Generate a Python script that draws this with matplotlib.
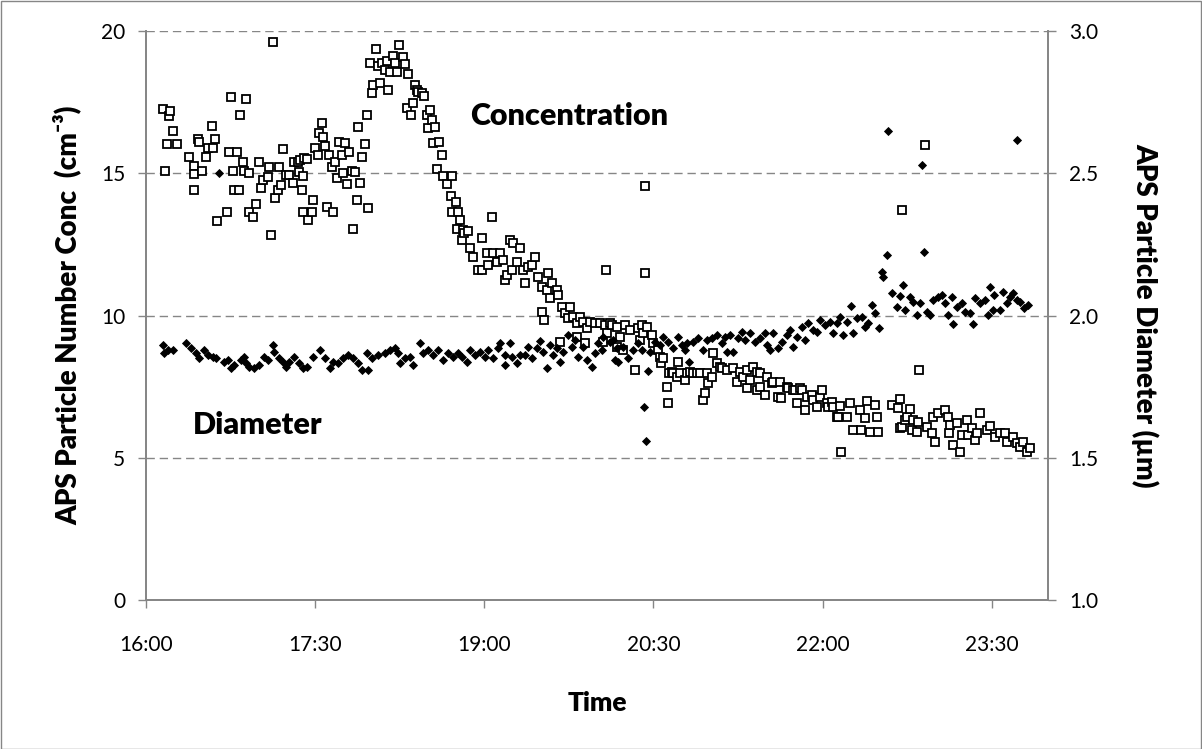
import matplotlib
matplotlib.use("Agg")
import matplotlib.pyplot as plt
from matplotlib.patches import Rectangle

# ---------------- data ----------------
# time in minutes after 16:00
conc_minutes = [
    8.9, 10.1, 11.0, 12.1, 12.9, 14.2, 16.3, 23.0, 25.4, 25.5, 25.8, 27.5, 28.4, 29.8, 31.9, 32.8,
    35.0, 35.5, 36.9, 37.8, 42.9, 44.0, 45.2, 46.1, 47.0, 48.3, 49.3, 50.2, 51.5, 52.0, 53.2, 54.7,
    55.0, 56.8, 58.5, 60.3, 61.2, 62.4, 64.8, 65.6, 66.7, 67.4, 68.8, 70.1, 70.9, 71.8, 72.8, 74.5,
    76.3, 78.1, 78.9, 80.7, 81.6, 82.0, 82.9, 83.4, 83.7, 84.2, 85.5, 86.4, 88.2, 89.0, 89.9, 91.7,
    92.2, 93.5, 94.4, 95.3, 96.2, 97.6, 98.8, 99.7, 100.6, 101.8, 102.9, 104.2, 105.0, 105.9, 106.8,
    108.2, 109.5, 110.0, 111.2, 112.1, 113.0, 113.9, 114.8, 116.6, 117.5, 118.3, 119.2, 120.1, 121.0,
    122.4, 123.6, 124.5, 125.4, 127.2, 128.4, 129.0, 129.9, 131.6, 132.5, 133.7, 134.8, 136.9, 137.8,
    138.7, 139.6, 140.9, 141.9, 143.2, 144.1, 144.9, 146.7, 148.0, 149.4, 150.2, 151.1, 152.1, 152.9,
    153.8, 154.7, 156.1, 157.4, 158.2, 160.0, 162.3, 162.7, 163.0, 165.0, 165.4, 165.9, 167.1, 168.0,
    168.5, 169.4, 171.5, 172.4, 174.2, 176.8, 178.7, 178.8, 181.3, 182.2, 184.0, 184.8, 186.6, 188.4,
    190.2, 191.1, 192.0, 193.7, 194.6, 195.5, 197.6, 199.0, 200.8, 201.7, 203.5, 205.3, 207.0, 208.8,
    210.6, 210.8, 211.8, 213.3, 214.1, 215.0, 215.9, 218.6, 219.4, 220.3, 221.2, 223.0, 224.7, 225.6,
    227.4, 229.2, 229.4, 231.0, 232.7, 233.6, 234.5, 236.3, 239.0, 241.6, 243.4, 244.3, 244.8, 245.2,
    246.9, 247.8, 250.5, 250.6, 252.3, 254.0, 254.9, 257.6, 260.2, 262.0, 262.9, 263.8, 264.7, 265.6,
    265.6, 266.5, 269.1, 270.0, 272.6, 273.5, 274.0, 275.3, 277.1, 278.0, 278.1, 279.8, 280.6, 282.4,
    283.3, 284.2, 286.9, 287.8, 289.5, 291.3, 293.1, 294.8, 296.6, 297.5, 298.4, 299.3, 301.1, 301.9,
    303.7, 305.5, 306.5, 309.0, 312.6, 314.4, 316.1, 317.9, 319.7, 319.8, 321.4, 323.2, 325.0, 325.1,
    326.8, 327.0, 329.4, 330.3, 333.0, 333.9, 336.5, 337.4, 337.7, 341.0, 341.8, 344.5, 345.4, 346.3,
    348.1, 349.0, 350.7, 351.6, 354.3, 355.1, 356.9, 358.7, 359.6, 362.3, 363.1, 364.9, 365.8, 367.6,
    368.4, 369.3, 369.7, 372.9, 374.7, 376.4, 380.0, 380.3, 382.6, 383.6, 385.3, 388.0, 388.9, 389.7,
    396.9, 400.4, 401.3, 401.5, 402.2, 402.5, 403.9, 404.8, 406.6, 407.5, 408.4, 410.2, 411.0, 411.5,
    414.6, 415.5, 418.1, 419.0, 419.9, 421.7, 425.2, 427.0, 427.1, 427.9, 429.6, 431.5, 433.2, 434.1,
    436.8, 437.6, 439.4, 441.2, 442.1, 443.9, 447.4, 449.2, 451.8, 454.5, 457.2, 458.1, 461.6, 463.4,
    465.1, 466.9, 468.7, 470.5,
]
conc_values = [
    17.25, 15.08, 16.04, 17.0, 17.2, 16.5, 16.04, 15.58, 14.4, 15.27, 14.97, 16.19, 16.11, 15.08, 15.58, 15.88,
    16.66, 15.9, 16.19, 13.32, 13.65, 15.76, 17.67, 15.08, 14.4, 15.76, 14.4, 17.05, 15.4, 15.08, 17.6, 15.0,
    13.65, 13.47, 13.92, 15.4, 14.47, 14.76, 14.86, 15.23, 12.83, 19.62, 14.12, 14.41, 15.23, 14.59, 15.84, 14.94,
    14.94, 14.67, 15.4, 15.4, 15.05, 15.47, 14.4, 14.9, 13.65, 15.52, 15.5, 13.36, 13.65, 14.06, 15.88, 15.64,
    16.4, 16.78, 16.29, 15.96, 13.83, 15.64, 15.23, 13.65, 15.4, 14.82, 16.11, 15.64, 15.0, 16.05, 14.62,
    15.76, 15.09, 13.03, 15.05, 14.06, 16.64, 14.67, 15.58, 16.03, 17.05, 13.79, 18.89, 17.81, 18.1,
    19.36, 18.77, 18.16, 18.89, 18.63, 18.94, 17.93, 18.57, 19.12, 18.87, 18.57, 19.51, 19.07, 18.83,
    17.28, 18.49, 17.05, 17.48, 18.1, 17.93, 17.87, 17.81, 17.72, 17.05, 16.58, 17.22, 16.87, 16.05,
    16.64, 15.14, 16.11, 15.64, 14.9, 14.62, 14.2, 14.9, 13.65, 14.0, 13.03, 13.65, 13.36, 12.65,
    13.0, 12.9, 12.98, 12.36, 12.05, 11.6, 12.71, 11.6, 12.19, 11.78, 13.45, 12.19, 11.89, 12.19,
    11.95, 11.25, 11.42, 12.65, 11.6, 12.54, 11.89, 12.36, 11.6, 11.15, 11.72, 11.78, 12.05, 11.34,
    11.01, 10.13, 9.84, 10.9, 11.48, 10.6, 11.13, 10.9, 10.72, 9.08, 10.31, 10.08, 9.9, 10.31,
    9.96, 9.73, 9.26, 9.96, 9.78, 9.02, 9.55, 9.78, 9.73, 9.73, 9.08, 9.67, 11.6, 9.37,
    9.73, 9.67, 9.61, 8.9, 9.26, 8.79, 9.67, 9.49, 8.08, 9.55, 9.14, 9.67, 9.37, 14.55,
    11.48, 9.61, 9.31, 9.02, 8.79, 8.55, 8.32, 8.49, 7.48, 6.94, 7.97, 8.03, 7.97, 7.85,
    8.38, 7.97, 7.73, 7.97, 8.03, 7.97, 7.99, 7.97, 7.03, 7.26, 7.97, 7.62, 7.85, 8.67,
    8.32, 8.2, 8.14, 8.08, 8.14, 7.67, 8.03, 7.85, 8.08, 7.44, 7.73, 8.2, 7.38, 8.03,
    7.97, 7.5, 7.21, 7.85, 7.62, 7.67, 7.15, 7.67, 7.09, 7.5, 7.44, 7.38, 7.38, 6.91,
    7.44, 7.38, 6.68, 7.15, 7.21, 7.03, 6.79, 7.15, 7.38, 6.91, 6.79, 6.97, 6.79, 6.44,
    6.44, 6.82, 5.21, 6.44, 6.94, 5.98, 6.68, 5.98, 6.39, 7.0, 5.92, 6.85, 6.44, 5.92,
    6.85, 6.74, 7.05, 6.03, 6.09, 13.71, 6.33, 6.44, 6.7, 5.98, 6.33, 5.92, 6.27, 8.08,
    15.99, 6.09, 5.86, 6.44, 5.57, 6.56, 6.68, 6.44, 5.86, 6.15, 5.45, 6.21, 5.21, 5.8,
    6.33, 5.8, 6.03, 5.62, 5.86, 6.59, 5.98, 6.12, 5.74, 5.86, 5.86, 5.57, 5.74, 5.51,
    5.39, 5.57, 5.21, 5.33,
]

diam_minutes = [
    8.9, 9.7, 11.5, 14.2, 21.3, 23.9, 26.6, 28.4, 31.0, 32.8, 35.5, 37.3, 39.0, 41.7, 43.5, 45.2,
    47.0, 50.6, 52.3, 53.2, 55.0, 57.6, 60.3, 63.0, 64.8, 67.4, 68.3, 70.9, 72.8, 74.5, 76.3, 78.9,
    81.6, 83.4, 85.5, 89.0, 92.6, 95.3, 97.9, 99.7, 102.3, 105.0, 107.7, 110.3, 113.0, 114.8, 117.5,
    118.3, 120.1, 123.6, 127.2, 129.9, 132.5, 134.3, 135.2, 137.8, 140.5, 142.3, 145.8, 147.6, 150.2,
    152.9, 155.6, 158.2, 160.9, 163.5, 166.2, 168.0, 170.7, 172.4, 175.1, 177.8, 180.4, 182.2, 184.8,
    187.5, 188.4, 191.1, 191.3, 193.7, 194.6, 197.3, 199.0, 201.7, 203.5, 205.3, 207.9, 209.7, 211.4,
    213.3, 215.0, 216.8, 218.6, 220.3, 222.1, 224.7, 226.6, 228.3, 230.1, 232.7, 234.5, 237.2, 239.0,
    240.7, 242.5, 243.4, 246.9, 248.7, 249.6, 250.5, 251.4, 254.0, 256.7, 259.3, 262.0, 263.8, 265.0,
    266.1, 267.3, 268.2, 270.9, 273.5, 275.3, 278.0, 280.6, 283.3, 285.1, 286.9, 287.8, 289.1, 291.3,
    293.9, 296.6, 298.4, 301.1, 303.7, 306.4, 308.1, 309.0, 310.8, 312.6, 315.2, 317.0, 318.8, 321.4,
    324.1, 326.8, 329.4, 330.3, 332.1, 333.9, 336.5, 338.3, 341.0, 342.7, 344.5, 346.3, 349.0, 350.7,
    352.5, 355.1, 356.9, 358.7, 361.4, 364.0, 365.8, 367.6, 369.3, 371.1, 372.9, 375.2, 376.4, 378.2,
    380.9, 382.6, 384.4, 386.2, 388.0, 390.3, 391.5, 392.4, 394.2, 394.9, 396.9, 399.5, 401.3, 403.0,
    403.9, 406.6, 408.4, 410.2, 411.9, 413.1, 414.2, 415.5, 417.2, 419.0, 421.7, 423.5, 425.2, 427.0,
    429.1, 429.6, 431.5, 434.1, 435.9, 438.5, 440.3, 441.2, 443.9, 446.5, 448.3, 449.2, 450.9, 451.4,
    454.5, 456.3, 458.1, 459.8, 461.6, 463.4, 463.5, 465.1, 467.4, 469.6,
]
diam_values = [
    1.896, 1.867, 1.879, 1.879, 1.902, 1.885, 1.867, 1.85, 1.879, 1.861, 1.855, 1.85, 2.5, 1.838, 1.844, 1.814,
    1.826, 1.844, 1.855, 1.832, 1.82, 1.814, 1.826, 1.855, 1.844, 1.896, 1.873, 1.85, 1.838, 1.82, 1.838, 1.855,
    1.832, 1.814, 1.82, 1.855, 1.879, 1.85, 1.814, 1.838, 1.832, 1.85, 1.861, 1.85, 1.832, 1.808, 1.867,
    1.808, 1.85, 1.861, 1.867, 1.879, 1.885, 1.867, 1.832, 1.85, 1.855, 1.826, 1.902, 1.867, 1.879,
    1.861, 1.879, 1.844, 1.867, 1.855, 1.867, 1.855, 1.838, 1.879, 1.861, 1.873, 1.855, 1.879, 1.85,
    1.885, 1.904, 1.826, 1.861, 1.904, 1.855, 1.832, 1.861, 1.861, 1.89, 1.85, 1.885, 1.911, 1.873,
    1.814, 1.896, 1.861, 1.885, 1.838, 1.873, 1.931, 1.89, 1.914, 1.855, 1.89, 1.844, 1.82, 1.867,
    1.902, 1.879, 1.925, 1.908, 1.914, 1.844, 1.885, 1.838, 1.89, 1.85, 1.879, 1.902, 1.879, 1.677,
    1.559, 1.806, 1.873, 1.908, 1.896, 1.925, 1.908, 1.885, 1.925, 1.896, 1.879, 1.902, 1.838, 1.908,
    1.92, 1.879, 1.914, 1.92, 1.931, 1.902, 1.925, 1.873, 1.931, 1.873, 1.92, 1.943, 1.914, 1.937,
    1.908, 1.92, 1.937, 1.896, 1.879, 1.94, 1.885, 1.908, 1.931, 1.949, 1.89, 1.925, 1.961, 1.914,
    1.973, 1.949, 1.943, 1.984, 1.967, 1.978, 1.937, 1.973, 1.996, 1.931, 1.978, 2.034, 1.937, 1.99,
    1.996, 1.961, 1.975, 2.037, 2.008, 1.957, 2.154, 2.136, 2.213, 2.648, 2.08, 2.031, 2.07, 2.107,
    2.019, 2.066, 2.049, 2.002, 2.043, 2.529, 2.222, 2.013, 2.002, 2.054, 2.066, 2.072, 2.043, 2.002,
    2.064, 1.97, 2.031, 2.043, 2.013, 2.01, 1.97, 2.06, 2.043, 2.054, 2.002, 2.101, 2.019, 2.072,
    2.019, 2.084, 2.043, 2.066, 2.078, 2.054, 2.617, 2.049, 2.025, 2.037,
]

x_tick_minutes = [0, 90, 180, 270, 360, 450]
x_tick_labels = ["16:00", "17:30", "19:00", "20:30", "22:00", "23:30"]
left_ticks = [0, 5, 10, 15, 20]
right_ticks = [1.0, 1.5, 2.0, 2.5, 3.0]

# ---------------- figure ----------------
W, H = 1202, 749
fig = plt.figure(figsize=(W / 100, H / 100), dpi=100)
fig.patch.set_facecolor("white")
fig.add_artist(Rectangle((0.5 / W, 0.5 / H), 1 - 1.5 / W, 1 - 1.5 / H, transform=fig.transFigure,
                         fill=False, edgecolor="#868686", linewidth=1.0))

gray = "#868686"
font = "Lato"
fonts = ["Lato", "DejaVu Sans"]
ax = fig.add_axes([146 / W, 149 / H, 902 / W, 569 / H])
ax.set_xlim(0, 480)
ax.set_ylim(0, 20)
ax2 = ax.twinx()
ax2.set_ylim(1.0, 3.0)

for a in (ax, ax2):
    a.set_facecolor("none")
    a.spines["top"].set_visible(False)
    for s in ("left", "right", "bottom"):
        a.spines[s].set_color(gray)
        a.spines[s].set_linewidth(1.3)

ax.set_yticks(left_ticks)
ax.set_yticklabels([str(v) for v in left_ticks])
ax2.set_yticks(right_ticks)
ax2.set_yticklabels([f"{v:.1f}" for v in right_ticks])
ax.set_xticks(x_tick_minutes)
ax.set_xticklabels(x_tick_labels)

ax.tick_params(axis="y", direction="out", length=6, width=1.0, color=gray, pad=9,
               labelsize=15, labelcolor="black")
ax2.tick_params(axis="y", direction="out", length=6, width=1.0, color=gray, pad=9,
                labelsize=15, labelcolor="black")
ax.tick_params(axis="x", direction="out", length=6, width=1.0, color=gray, pad=19,
               labelsize=15, labelcolor="black")
for lab in ax.get_xticklabels() + ax.get_yticklabels() + ax2.get_yticklabels():
    lab.set_fontfamily(font)

# dashed gridlines
for v in left_ticks[1:]:
    ax.axhline(v, color=gray, linewidth=1.0, dashes=(6, 3.5), zorder=0.5)

ax.plot(conc_minutes, conc_values, linestyle="none", marker="s", markersize=6.4,
        markerfacecolor="white", markeredgecolor="black", markeredgewidth=1.3, zorder=3)
ax2.plot(diam_minutes, diam_values, linestyle="none", marker="D", markersize=3.7,
         markerfacecolor="black", markeredgecolor="black", markeredgewidth=0.6, zorder=3)

ax.set_ylabel("APS Particle Number Conc  (cm\u207b\u00b3)", fontfamily=fonts, fontweight="heavy",
              fontsize=20, labelpad=14)
ax2.set_ylabel("APS Particle Diameter (\u00b5m)", fontfamily=font, fontweight="heavy",
               fontsize=20, rotation=270, labelpad=44)
ax.set_xlabel("Time", fontfamily=font, fontweight="heavy", fontsize=19, labelpad=26)

ax.text(172.4, 17.0, "Concentration", fontfamily=font, fontweight="heavy", fontsize=22,
        ha="left", va="center")
ax.text(25, 6.15, "Diameter", fontfamily=font, fontweight="heavy", fontsize=22,
        ha="left", va="center")

fig.savefig("out.png", dpi=100, facecolor="white")
